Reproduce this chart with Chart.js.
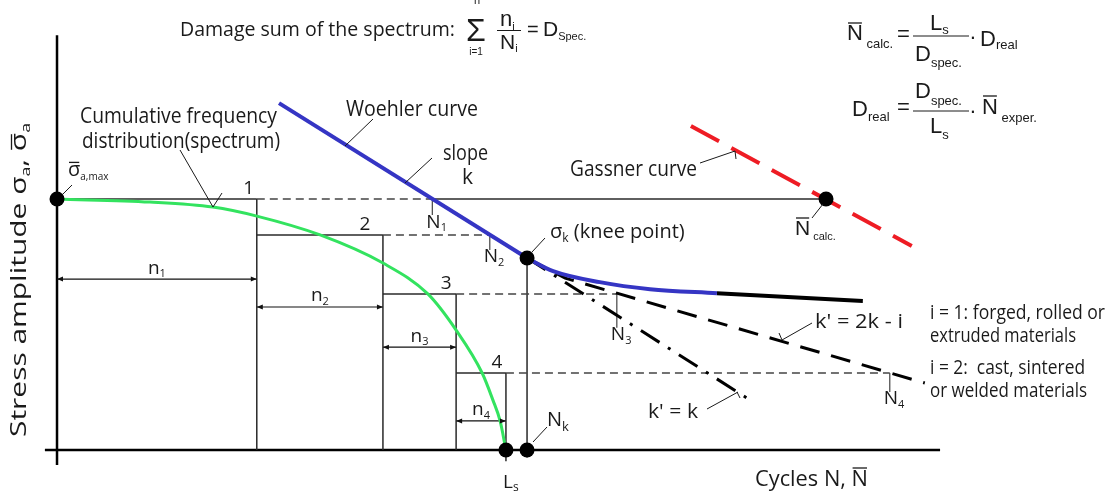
<!DOCTYPE html>
<html>
<head>
<meta charset="utf-8">
<script src="https://cdn.jsdelivr.net/npm/chart.js@4.4.0/dist/chart.umd.min.js"></script>
<style>
  html, body { margin: 0; padding: 0; background: #fff; }
  #wrap { width: 1112px; height: 497px; position: relative; }
</style>
</head>
<body>
<div id="wrap"><canvas id="chart"></canvas></div>
<script>
// stress levels of the 4-step spectrum (sigma_a,max = 100)
const levels = [100, 85.7, 62.2, 30.7];
// cumulative cycles at the end of each block (Ls = 100)
const blockEnds = [44.5, 72.6, 88.9, 100];
// N_i read on the S-N curves at each level
const lifeN = [83.6, 96.4, 124.7, 185.5];
const blockLabels = ["1", "2", "3", "4"];

// cumulative frequency distribution (spectrum)
const spectrumX = [0, 20.7, 34.7, 44.5, 58.6, 72.6, 82.6, 88.9, 94.7, 97.1, 98.7, 100];
const spectrumY = [100, 98.8, 96.8, 93.2, 85.7, 74.5, 62.2, 47.8, 30.7, 19.9, 11.6, 0];

// Woehler curve: slope k part, knee transition, endurance part
const woehlerX = [49.45, 104.7];
const woehlerY = [138.2, 76.5];
const kneeCurveX = [104.7, 110.5, 120.9, 132.1, 147];
const kneeCurveY = [76.5, 71.3, 66.9, 64.1, 62.5];
const enduranceX = [147, 179.5];
const enduranceY = [62.5, 59.4];

// extrapolations below the knee
const k2X = [104.7, 113.2, 193.3];   // k' = 2k - i
const k2Y = [76.5, 68.5, 26.7];
const k1X = [104.7, 154.4];          // k' = k
const k1Y = [76.5, 19.9];

// Gassner curve
const gassnerX = [141.2, 190.4];
const gassnerY = [129.1, 81.3];

const kneeN = 104.7, kneeS = 76.5;
const Ls = 100;
const nCalc = 171.3;

// ---- layout / style (not data) ----
const O = "'Open Sans', sans-serif";
const A = "'Liberation Sans', Arial, sans-serif";
const nTick = [6.4, 6.0, 13.5, 7.6];     // length of N_i ticks, data units
const dimY = [68.1, 57.0, 41.0, 11.6];   // height of n_i dimension arrows
const numDx = [-8, -18, -10, -9];

const datasets = [];
function pts(xs, ys) { return xs.map((x, i) => ({ x: x, y: ys[i] })); }
function seg(x0, y0, x1, y1) { return [{ x: x0, y: y0 }, { x: x1, y: y1 }]; }
function add(data, style) {
  datasets.push(Object.assign({ data: data, showLine: true, pointRadius: 0, fill: false, tension: 0 }, style));
}
const thin = { borderColor: '#2a2a2a', borderWidth: 1.5 };

// dots on top
add([{ x: 0, y: levels[0] }, { x: kneeN, y: kneeS }, { x: Ls, y: 0 }, { x: kneeN, y: 0 }, { x: nCalc, y: levels[0] }],
  { showLine: false, pointRadius: 7.5, pointBackgroundColor: '#000', pointBorderWidth: 0 });

add(pts(gassnerX, gassnerY), { borderColor: '#ee1c24', borderWidth: 4, borderDash: [32, 14] });
add(pts(woehlerX, woehlerY), { borderColor: '#3535c4', borderWidth: 4 });
add(pts(kneeCurveX, kneeCurveY), { borderColor: '#3535c4', borderWidth: 4, cubicInterpolationMode: 'monotone' });
add(pts(enduranceX, enduranceY), { borderColor: '#000', borderWidth: 4 });
add(pts(k2X, k2Y), { borderColor: '#000', borderWidth: 3, borderDash: [20, 12] });
add(pts(k1X, k1Y), { borderColor: '#000', borderWidth: 3, borderDash: [22, 10, 3, 10] });
add(pts(spectrumX, spectrumY), { borderColor: '#33e35f', borderWidth: 3, cubicInterpolationMode: 'monotone' });

for (let i = 0; i < levels.length; i++) {
  const x0 = i === 0 ? 0 : blockEnds[i - 1];
  add(seg(x0, levels[i], blockEnds[i], levels[i]), thin);
  add(seg(blockEnds[i], levels[i], lifeN[i], levels[i]), { borderColor: '#444', borderWidth: 1.5, borderDash: [8, 5] });
  add(seg(blockEnds[i], levels[i], blockEnds[i], 0), thin);
  add(seg(lifeN[i], levels[i], lifeN[i], levels[i] - nTick[i]), { borderColor: '#444', borderWidth: 1.2 });
  add(seg(x0, dimY[i], blockEnds[i], dimY[i]), { borderColor: '#111', borderWidth: 1.2, arrows: true });
}
add(seg(lifeN[0], levels[0], nCalc, levels[0]), thin);
add(seg(kneeN, kneeS, kneeN, -3), thin);
add(seg(Ls, 0, Ls, -4.5), thin);

// axes
add(seg(-2.7, 0, 196.7, 0), { borderColor: '#000', borderWidth: 2.5 });
add(seg(0, -6, 0, 165.3), { borderColor: '#000', borderWidth: 2.5 });

// free text, pixel positions. part = [text, size, dy, overbar offset]
const texts = [
  { x: 180, y: 30, f: O, w: 275, p: [['Damage sum of the spectrum:', 20]] },
  { x: 466, y: 32, f: A, p: [['\u03a3', 32]] },
  { x: 477, y: 1, f: A, align: 'center', p: [['n', 11]] },
  { x: 476, y: 52, f: A, align: 'center', p: [['i=1', 10]] },
  { x: 500, y: 20, f: A, p: [['n', 22], ['i', 11, 7]] },
  { x: 500, y: 43, f: A, p: [['N', 21], ['i', 11, 6]] },
  { x: 527, y: 30, f: A, p: [['=', 20]] },
  { x: 543, y: 30, f: A, p: [['D', 21], ['Spec.', 11, 7]] },

  { x: 847, y: 34, f: A, p: [['N', 22, 0, 11], [' calc.', 13, 10]] },
  { x: 897, y: 35, f: A, p: [['=', 22]] },
  { x: 930, y: 24, f: A, p: [['L', 22], ['s', 13, 6]] },
  { x: 915, y: 55, f: A, p: [['D', 22], ['spec.', 13, 8]] },
  { x: 973, y: 38, f: A, align: 'center', p: [['\u00b7', 22]] },
  { x: 980, y: 40, f: A, p: [['D', 22], ['real', 13, 5]] },

  { x: 852, y: 110, f: A, p: [['D', 22], ['real', 13, 7]] },
  { x: 897, y: 108, f: A, p: [['=', 22]] },
  { x: 915, y: 92, f: A, p: [['D', 22], ['spec.', 13, 9]] },
  { x: 930, y: 127, f: A, p: [['L', 22], ['s', 13, 8]] },
  { x: 973, y: 112, f: A, align: 'center', p: [['\u00b7', 22]] },
  { x: 982, y: 108, f: A, p: [['N', 22, 0, 12], [' exper.', 13, 10]] },

  { x: 795, y: 229, f: A, p: [['N', 21, 0, 11], [' calc.', 11, 8]] },

  { x: 80, y: 117, f: O, w: 197, p: [['Cumulative frequency', 21]] },
  { x: 82, y: 142, f: O, w: 198, p: [['distribution(spectrum)', 21]] },
  { x: 68, y: 170, f: O, p: [['\u03c3', 20, 0, 7.6], ['a,max', 10, 7]] },
  { x: 346, y: 110, f: O, w: 132, p: [['Woehler curve', 21]] },
  { x: 443, y: 154, f: O, w: 45, p: [['slope', 21]] },
  { x: 462, y: 178, f: O, p: [['k', 21]] },
  { x: 570, y: 170, f: O, w: 127, p: [['Gassner curve', 21]] },
  { x: 550, y: 232, f: O, p: [['\u03c3', 20], ['k', 12, 7], [' (knee point)', 20]] },
  { x: 815, y: 322, f: O, w: 88, p: [["k' = 2k - i", 20]] },
  { x: 930, y: 313, f: O, w: 175, p: [['i = 1: forged, rolled or', 19.5]] },
  { x: 930, y: 336, f: O, w: 146, p: [['extruded materials', 19.5]] },
  { x: 930, y: 368, f: O, w: 155, p: [['i = 2:  cast, sintered', 19.5]] },
  { x: 930, y: 391, f: O, w: 157, p: [['or welded materials', 19.5]] },
  { x: 648, y: 412, f: O, w: 50, p: [["k' = k", 20]] },
  { x: 547, y: 420, f: O, p: [['N', 20], ['k', 13, 7]] },
  { x: 503, y: 483, f: O, p: [['L', 19], ['s', 12, 5]] },
  { x: 755, y: 480, f: O, w: 113, p: [['Cycles N, ', 22], ['N', 22, 0, 12]] },
  { x: 20, y: 280, f: O, rot: true, w: 314, align: 'center',
    p: [['Stress amplitude \u03c3', 22], ['a', 13, 6], [', ', 22], ['\u03c3', 22, 0, 8.5], ['a', 13, 6]] }
];

// leader lines and fraction bars, pixel positions
const leaders = [
  [62, 195, 72, 185], [180, 150, 213, 207], [213, 207, 222, 193],
  [345, 146, 373, 119], [405, 183, 432, 158], [700, 163, 735, 151], [735, 151, 736, 159],
  [532, 252, 545, 238], [812, 218, 823, 204], [782, 340, 812, 323], [779, 333, 782, 340],
  [707, 409, 738, 392], [737, 392, 740, 398], [533, 442, 547, 427],
  [497, 30.5, 521, 30.5], [913, 36, 969, 36], [913, 111, 969, 111]
];

function drawRun(ctx, t) {
  const parts = t.p.map(p => ({ s: p[0], size: p[1], dy: p[2] || 0, bar: p[3] }));
  let total = 0;
  parts.forEach(q => { ctx.font = q.size + 'px ' + t.f; q.w = ctx.measureText(q.s).width; total += q.w; });
  const sx = t.w ? t.w / total : 1;
  ctx.save();
  ctx.translate(t.x, t.y);
  if (t.rot) ctx.rotate(-Math.PI / 2);
  ctx.scale(sx, 1);
  let cx = t.align === 'center' ? -total / 2 : 0;
  ctx.fillStyle = '#1a1a1a';
  ctx.strokeStyle = '#1a1a1a';
  ctx.textBaseline = 'middle';
  ctx.textAlign = 'left';
  parts.forEach(q => {
    ctx.font = q.size + 'px ' + t.f;
    ctx.fillText(q.s, cx, q.dy);
    if (q.bar) {
      ctx.lineWidth = 1.3;
      ctx.beginPath();
      ctx.moveTo(cx + 1, q.dy - q.bar);
      ctx.lineTo(cx + q.w - 1, q.dy - q.bar);
      ctx.stroke();
    }
    cx += q.w;
  });
  ctx.restore();
}

function head(ctx, tx, ty, fx, fy) {
  const a = Math.atan2(ty - fy, tx - fx), L = 6, W = 2.5;
  ctx.beginPath();
  ctx.moveTo(tx, ty);
  ctx.lineTo(tx - L * Math.cos(a) + W * Math.sin(a), ty - L * Math.sin(a) - W * Math.cos(a));
  ctx.lineTo(tx - L * Math.cos(a) - W * Math.sin(a), ty - L * Math.sin(a) + W * Math.cos(a));
  ctx.closePath();
  ctx.fill();
}

const decor = {
  id: 'decor',
  afterDatasetsDraw(chart) {
    const ctx = chart.ctx;
    const xs = chart.scales.x, ys = chart.scales.y;
    ctx.save();
    ctx.fillStyle = '#111';
    chart.data.datasets.forEach((ds, i) => {
      if (!ds.arrows) return;
      const el = chart.getDatasetMeta(i).data;
      const a = el[0], b = el[el.length - 1];
      head(ctx, a.x, a.y, b.x, b.y);
      head(ctx, b.x, b.y, a.x, a.y);
    });
    ctx.strokeStyle = '#1a1a1a';
    ctx.lineWidth = 1;
    leaders.forEach(l => {
      ctx.beginPath(); ctx.moveTo(l[0], l[1]); ctx.lineTo(l[2], l[3]); ctx.stroke();
    });
    ctx.restore();

    // labels tied to the spectrum data
    levels.forEach((lv, i) => {
      drawRun(ctx, { x: xs.getPixelForValue(blockEnds[i]) + numDx[i], y: ys.getPixelForValue(lv) - 10,
        f: O, align: 'center', p: [[blockLabels[i], 19]] });
      drawRun(ctx, { x: xs.getPixelForValue(lifeN[i]) - 6, y: ys.getPixelForValue(lv - nTick[i]) + 7,
        f: O, p: [['N', 19], [String(i + 1), 11, 6]] });
      const x0 = i === 0 ? 0 : blockEnds[i - 1];
      drawRun(ctx, { x: xs.getPixelForValue((x0 + blockEnds[i]) / 2), y: ys.getPixelForValue(dimY[i]) - 11,
        f: O, align: 'center', p: [['n', 19], [String(i + 1), 11, 6]] });
    });
    texts.forEach(t => drawRun(ctx, t));
  }
};

new Chart(document.getElementById('chart'), {
  type: 'scatter',
  data: { datasets: datasets },
  options: {
    responsive: true,
    maintainAspectRatio: false,
    devicePixelRatio: 1,
    animation: false,
    events: [],
    layout: { padding: 0, autoPadding: false },
    plugins: { legend: { display: false }, tooltip: { enabled: false } },
    scales: {
      x: { type: 'linear', min: -12.7, max: 235, display: false },
      y: { type: 'linear', min: -18.7, max: 179.3, display: false }
    }
  },
  plugins: [decor]
});
</script>
</body>
</html>
